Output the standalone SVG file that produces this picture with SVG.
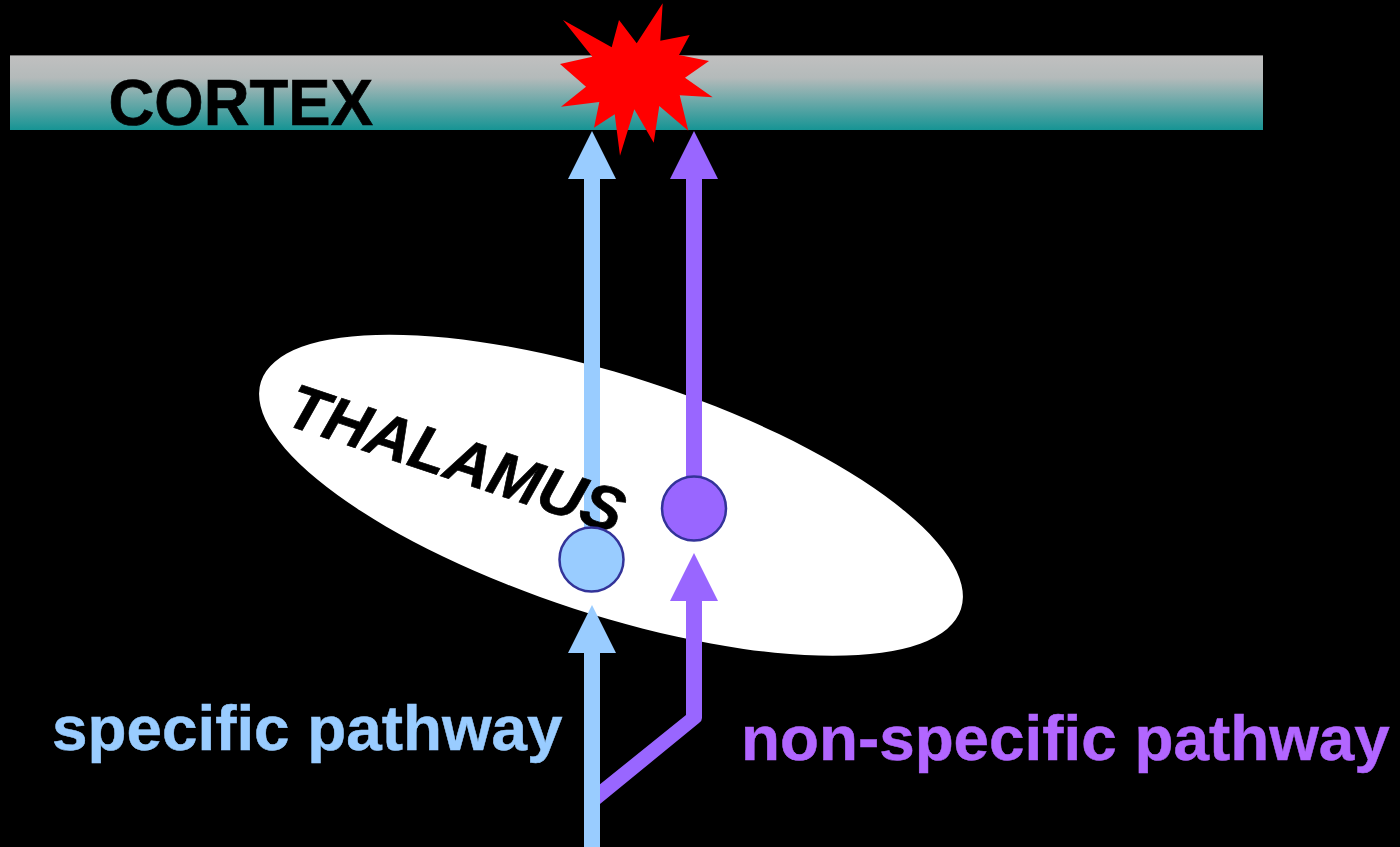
<svg xmlns="http://www.w3.org/2000/svg" width="1400" height="847" viewBox="0 0 1400 847">
<style>
text{font-family:"Liberation Sans",Arial,sans-serif;font-weight:bold}
.blue{fill:#99ccff}.violet{fill:#9966ff}
.ln{stroke-width:16;fill:none}
.cell{stroke:#333399;stroke-width:2.500}
.heavy{stroke:#000;stroke-width:0.700}
</style>
<defs><linearGradient id="g" x1="0" y1="0" x2="0" y2="1"><stop offset="0" stop-color="#c0c0c0"/><stop offset="0.3" stop-color="#b4baba"/><stop offset="1" stop-color="#169494"/></linearGradient></defs>
<rect width="1400" height="847" fill="#000"/>
<g id="cortex"><rect x="10" y="55.400" width="1253" height="74.600" fill="url(#g)"/><text class="heavy" x="108.500" y="125" font-size="65.500" textLength="264.500" lengthAdjust="spacingAndGlyphs" fill="#000">CORTEX</text></g>
<g id="thalamus"><ellipse cx="611" cy="495.300" rx="368" ry="119.200" transform="rotate(18 611 495.300)" fill="#fff"/></g>
<g id="connectors">
<path class="ln" stroke="#99ccff" d="M592 530V175"/>
<path class="blue" d="M592 131L616 179H568Z"/>
<path class="ln" stroke="#9966ff" d="M694 480V175"/>
<path class="violet" d="M694 131L718 179H670Z"/>
<path d="M600 784.300L686 715V600H702V718Q702 721 699 723L600 804Z" class="violet"/>
<path class="violet" d="M694 553L718 601H670Z"/>
<path class="ln" stroke="#99ccff" d="M592 847V648"/>
<path class="blue" d="M592 605L616 653H568Z"/>
</g>
<g id="burst"><polygon fill="#ff0000" points="563,20 611.700,47.300 619,20 636.700,43.300 662.700,3.300 660.300,40.700 689.700,35 679,55 709,61 685,77.700 712.700,97.300 679.700,95.300 688.300,130.700 659.300,106 653.700,142.700 634.300,109.300 620,155.700 614.700,114.300 594,127.700 599.300,102 561,106.700 586,86.700 560,64 592.300,56.700"/></g>
<g id="thalamus-label"><text class="heavy" transform="translate(283 424) rotate(18.300)" font-size="62.500" font-style="italic" fill="#000">THALAMUS</text></g>
<g id="specific-cell"><circle class="blue cell" cx="591.500" cy="559.500" r="32"/></g>
<g id="nonspecific-cell"><circle class="violet cell" cx="694" cy="508.500" r="32"/></g>
<g id="specific-label"><text x="52" y="750" font-size="63.800" fill="#99ccff" stroke="#99ccff" stroke-width="0.500">specific pathway</text></g>
<g id="nonspecific-label"><text x="741" y="760" font-size="63.800" fill="#b266ff" stroke="#b266ff" stroke-width="0.500">non-specific pathway</text></g>
</svg>
